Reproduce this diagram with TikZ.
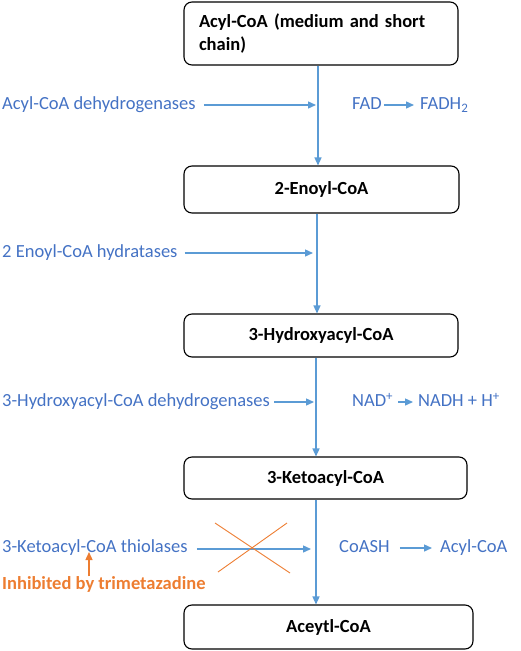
\documentclass[tikz,border=0pt]{standalone}
\usepackage{fontspec}
\setmainfont{Carlito}
\usetikzlibrary{arrows.meta}
\definecolor{tblue}{HTML}{4472C4}
\definecolor{lblue}{HTML}{5B9BD5}
\definecolor{orng}{HTML}{ED7D31}
\begin{document}
\begin{tikzpicture}[x=1pt,y=-1pt,
  box/.style={draw=black,line width=1.1pt,rounded corners=8pt,font=\bfseries\fontsize{18.5}{23}\selectfont,inner sep=0pt},
  lab/.style={text=tblue,font=\fontsize{18.5}{23}\selectfont,inner sep=0pt,text height=13pt,text depth=4pt,anchor=west},
  arr/.style={draw=lblue,line width=1.4pt,-{Triangle[length=8pt,width=7pt]}},
  oarr/.style={draw=orng,line width=1.4pt,-{Triangle[length=8pt,width=7pt]}},
  xline/.style={draw=orng,line width=0.9pt}]
\useasboundingbox (0,0) rectangle (520,651);
% boxes
\node[box,minimum width=274pt,minimum height=63pt,text width=244pt,align=left] (b1) at (321,33.5) {Acyl-CoA (medium and short\\chain)};
\node[box,minimum width=275pt,minimum height=47pt] (b2) at (321.5,189.5) {2-Enoyl-CoA};
\node[box,minimum width=274pt,minimum height=43pt] (b3) at (321,335.5) {3-Hydroxyacyl-CoA};
\node[box,minimum width=283pt,minimum height=42pt] (b4) at (325.5,478) {3-Ketoacyl-CoA};
\node[box,minimum width=289pt,minimum height=44pt] (b5) at (328.5,627) {Aceytl-CoA};
% main vertical arrows
\draw[arr] ([xshift=-3pt]b1.south) -- ([xshift=-3.5pt]b2.north);
\draw[arr] ([xshift=-4.5pt]b2.south) -- ([xshift=-4pt]b3.north);
\draw[arr] ([xshift=-5pt]b3.south) -- ([xshift=-9.5pt]b4.north);
\draw[arr] ([xshift=-9.5pt]b4.south) -- ([xshift=-12.5pt]b5.north);
% row 1
\node[lab] (e1) at (2,105) {Acyl-CoA dehydrogenases};
\coordinate (t1) at (316,105);
\draw[arr] ([xshift=8pt]e1.east) -- (t1);
\node[lab] (f1) at (352,105) {FAD};
\node[lab] (f2) at (420,105) {FADH\textsubscript{2}};
\draw[arr] ([xshift=2pt]f1.east) -- ([xshift=-6pt]f2.west);
% row 2
\node[lab] (e2) at (2,253) {2 Enoyl-CoA hydratases};
\coordinate (t2) at (313,253);
\draw[arr] ([xshift=7pt]e2.east) -- (t2);
% row 3
\node[lab] (e3) at (2,402) {3-Hydroxyacyl-CoA dehydrogenases};
\coordinate (t3) at (314,402);
\draw[arr] ([xshift=4pt]e3.east) -- (t3);
\node[lab] (n1) at (352,402) {NAD\textsuperscript{+}};
\node[lab] (n2) at (418,402) {NADH + H\textsuperscript{+}};
\draw[arr] ([xshift=5pt]n1.east) -- ([xshift=-5pt]n2.west);
% row 4
\node[lab] (e4) at (2,548) {3-Ketoacyl-CoA thiolases};
\coordinate (t4) at (311,549);
\draw[arr] ([xshift=9pt]e4.east |- t4) -- (t4);
\node[lab] (c1) at (339,548) {CoASH};
\node[lab] (c2) at (440,548) {Acyl-CoA};
\draw[arr] ([xshift=10pt]c1.east) -- ([xshift=-8pt]c2.west);
% cross
\draw[xline] (215,523) -- (290,573);
\draw[xline] (218,572) -- (287,523);
% inhibitor
\node[lab,text=orng,font=\bfseries\fontsize{18.5}{23}\selectfont] (inh) at (2,585) {Inhibited by trimetazadine};
\coordinate (i1) at (89,552);
\draw[oarr] (inh.north -| i1) -- (i1);
\end{tikzpicture}
\end{document}
